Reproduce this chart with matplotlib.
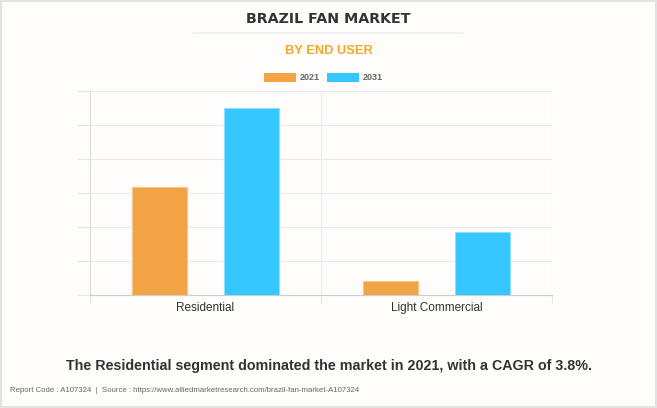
import matplotlib.pyplot as plt
import numpy as np
from matplotlib.patches import Rectangle
from matplotlib.lines import Line2D

categories = ['Residential', 'Light Commercial']
years = ['2021', '2031']
values_2021 = [318, 41]
values_2031 = [550, 185]
colors = ['#F2A444', '#33C6FF']

plt.rcParams['font.family'] = ['Liberation Sans', 'DejaVu Sans']

fig = plt.figure(figsize=(6.57, 4.08), dpi=100)
fig.patch.set_facecolor('#FEFDFC')
ax = fig.add_axes([90 / 657, 1 - 295 / 408, 462 / 657, 204 / 408])
ax.set_facecolor('#FEFDFC')

x = np.arange(len(categories))
w = 0.24
ax.bar(x - 0.2, values_2021, w, color=colors[0], edgecolor='#F6C58A', linewidth=0.8, zorder=3)
ax.bar(x + 0.2, values_2031, w, color=colors[1], edgecolor='#8FDFFF', linewidth=0.8, zorder=3)

ax.set_xlim(-0.5, 1.5)
ax.set_ylim(0, 600)
ax.set_yticks(np.arange(0, 601, 100))
ax.set_yticklabels([])
ax.set_xticks([-0.5, 0.5, 1.5], minor=False)
ax.set_xticklabels([])
ax.set_xticks(x, minor=True)
ax.set_xticklabels(categories, minor=True, fontsize=8.5, color='#333333')
ax.tick_params(axis='x', which='minor', length=0, pad=5)
ax.tick_params(axis='x', which='major', length=6, color='#E6E6E6')
ax.tick_params(axis='y', length=9, color='#E6E6E6')
ax.grid(True, which='major', color='#EAEAEA', linewidth=0.8, zorder=0)
for s in ['top', 'right']:
    ax.spines[s].set_visible(False)
ax.spines['left'].set_color('#DDDDDD')
ax.spines['bottom'].set_color('#CCCCCC')

# title area
fig.text(0.5, 1 - 19 / 408, 'BRAZIL FAN MARKET', ha='center', va='center',
         fontsize=10.3, fontweight='bold', color='#333333', family='DejaVu Sans')
fig.add_artist(Line2D([193 / 657, 463 / 657], [1 - 33 / 408, 1 - 33 / 408],
                      color='#EEEEEE', linewidth=1.2))
fig.text(0.5, 1 - 51 / 408, 'BY END USER', ha='center', va='center',
         fontsize=9.3, fontweight='bold', color='#F5A623')

# legend
leg_y = 1 - 78 / 408
for i, (lx, tx) in enumerate([(264, 300), (327, 363)]):
    fig.add_artist(Rectangle((lx / 657, leg_y - 4 / 408), 32 / 657, 9 / 408,
                             facecolor=colors[i], edgecolor='none'))
    fig.text(tx / 657, leg_y, years[i], ha='left', va='center',
             fontsize=6.5, fontweight='bold', color='#666666')

fig.text(0.5, 1 - 366 / 408,
         'The Residential segment dominated the market in 2021, with a CAGR of 3.8%.',
         ha='center', va='center', fontsize=10.3, fontweight='bold', color='#333333')
fig.text(10 / 657, 1 - 390 / 408,
         'Report Code : A107324  |  Source : https://www.alliedmarketresearch.com/brazil-fan-market-A107324',
         ha='left', va='center', fontsize=5.6, color='#666666')

fig.add_artist(Rectangle((0.001, 0.002), 0.997, 0.996, fill=False,
                         edgecolor='#E3E3E3', linewidth=1.5))

fig.savefig('out.png', dpi=100, facecolor=fig.get_facecolor())
